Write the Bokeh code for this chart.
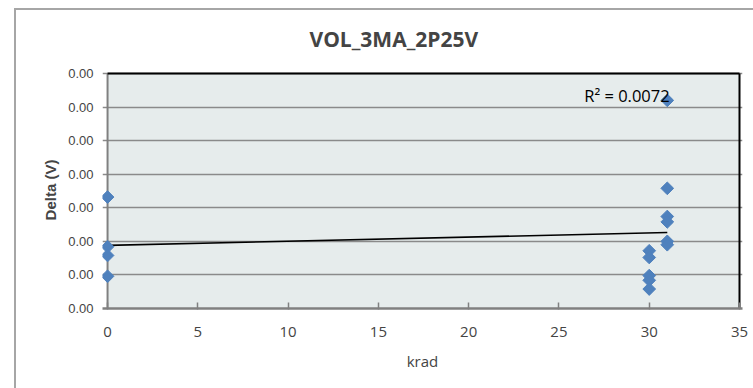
import numpy as np
from bokeh.plotting import figure
from bokeh.models import FixedTicker, PrintfTickFormatter, Label, BoxAnnotation, ColumnDataSource
from bokeh.embed import file_html
from bokeh.resources import INLINE

# ---- data ----
krad = [0, 0, 0, 0, 30, 30, 30, 30, 30, 31, 31, 31, 31, 31, 31]
delta = [0.00166, 0.00092, 0.00079, 0.00048,
         0.00086, 0.00076, 0.00049, 0.00042, 0.00029,
         0.00310, 0.00179, 0.00137, 0.00129, 0.00100, 0.00095]
x_ticks = [0, 5, 10, 15, 20, 25, 30, 35]
y_ticks = [0.0, 0.0005, 0.0010, 0.0015, 0.0020, 0.0025, 0.0030, 0.0035]
title_text = "VOL_3MA_2P25V"
r2_text = "R² = 0.0072"

# linear trendline from the data
slope, intercept = np.polyfit(krad, delta, 1)
tx = [min(krad), max(krad)]
ty = [intercept + slope * v for v in tx]

x0, x1 = x_ticks[0], x_ticks[-1]
y0, y1 = y_ticks[0], y_ticks[-1]

# small padding so the frame-edge lines are not clipped
p = figure(width=753, height=388, output_backend="svg", toolbar_location=None,
           x_range=(x0 - 0.28, x1 + 0.166), y_range=(y0, y1 + 0.00003),
           min_border_left=102, min_border_right=11, min_border_top=71, min_border_bottom=80)

p.background_fill_color = None
p.border_fill_color = None
p.outline_line_color = None
p.styles = {"box-shadow": "inset 14px 8px 0 0 white, inset 16px 10px 0 0 #A6A6A6",
            "background-color": "white"}

# plot-area fill
p.add_layout(BoxAnnotation(left=x0, right=x1, bottom=y0, top=y1, level="image",
                           fill_color="#E6ECEC", fill_alpha=1, line_color=None))

# title
p.title.text = title_text
p.title.text_font = "Open Sans"
p.title.text_font_size = "21px"
p.title.text_font_style = "bold"
p.title.align = "left"
p.title.offset = 207
p.title.standoff = 38

# axes
xa = p.xaxis[0]
xa.ticker = FixedTicker(ticks=x_ticks)
xa.axis_label = "krad"
xa.axis_label_text_font = "Open Sans"
xa.axis_label_text_font_size = "15px"
xa.axis_label_text_font_style = "normal"
xa.major_label_text_font = "Open Sans"
xa.major_label_text_font_size = "15px"
xa.axis_line_color = "#808080"
xa.axis_line_width = 2.5
xa.major_tick_line_color = "#808080"
xa.major_tick_line_width = 1.5
xa.major_tick_in = 6
xa.major_tick_out = 1
xa.minor_tick_line_color = None
xa.major_label_standoff = 17
xa.axis_label_standoff = 11

ya = p.yaxis[0]
ya.ticker = FixedTicker(ticks=y_ticks)
ya.formatter = PrintfTickFormatter(format="%.2f")
ya.axis_label = "Delta (V)"
ya.axis_label_text_font = "Liberation Sans"
ya.axis_label_text_font_size = "15px"
ya.axis_label_text_font_style = "bold"
ya.major_label_text_font = "Liberation Sans"
ya.major_label_text_font_size = "13px"
ya.axis_line_color = None
ya.major_tick_line_color = None
ya.major_tick_in = 0
ya.major_tick_out = 0
ya.minor_tick_line_color = None
ya.major_label_standoff = 9
ya.axis_label_standoff = 6

p.xgrid.visible = False
p.ygrid.ticker = FixedTicker(ticks=y_ticks)
p.ygrid.grid_line_color = "#8A8A8A"
p.ygrid.grid_line_width = 1.5

# frame edges: grey value axis at x=0, black top and right borders
p.line([x0, x0], [y0, y1], line_color="#808080", line_width=2)
p.line([x0, x1], [y1, y1], line_color="black", line_width=2)
p.line([x1, x1], [y0, y1], line_color="black", line_width=2)

# trendline
p.line(tx, ty, line_color="black", line_width=1.6)

# points
src = ColumnDataSource(dict(x=krad, y=delta))
p.scatter("x", "y", source=src, marker="square", angle=np.pi / 4, size=9,
          fill_color="#4F81BD", line_color="#4F81BD", line_width=1)

# R^2 label
p.add_layout(Label(x=26.4, y=0.00317, text=r2_text, text_font="Open Sans",
                   text_font_size="16.5px", text_baseline="middle", text_align="left",
                   text_color="black"))

open("out.html", "w").write(file_html(p, INLINE))
